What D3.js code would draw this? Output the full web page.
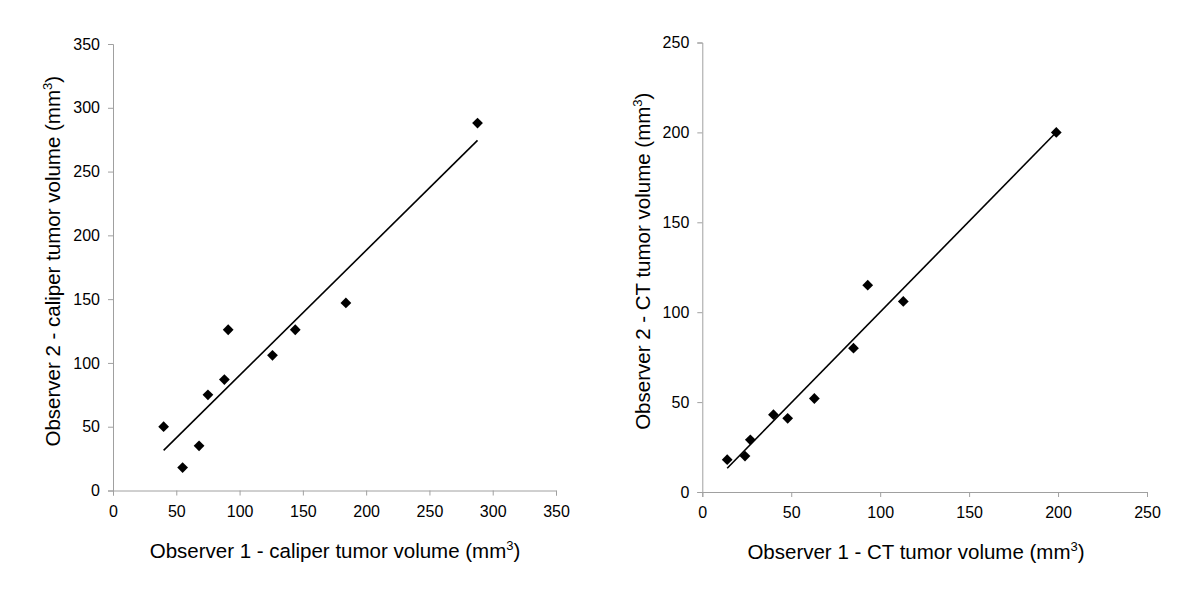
<!DOCTYPE html>
<html>
<head>
<meta charset="utf-8">
<script src="https://cdn.jsdelivr.net/npm/d3@7"></script>
<style>
  body { margin: 0; background: #fff; }
  svg text { font-family: "Liberation Sans", Arial, sans-serif; fill: #000; }
</style>
</head>
<body>
<div id="chart"></div>
<script>
// caliper measurements (mm3)
const caliperObs1 = [40, 55, 68, 75, 88, 91, 126, 144, 184, 288];
const caliperObs2 = [50, 18, 35, 75, 87, 126, 106, 126, 147, 288];
const caliperTicks = [0, 50, 100, 150, 200, 250, 300, 350];

// CT measurements (mm3)
const ctObs1 = [14, 24, 27, 40, 48, 63, 85, 93, 113, 199];
const ctObs2 = [18, 20, 29, 43, 41, 52, 80, 115, 106, 200];
const ctTicks = [0, 50, 100, 150, 200, 250];

const W = 1200, H = 612;

const svg = d3.select("#chart").append("svg")
    .attr("width", W)
    .attr("height", H);

function linFit(xs, ys) {
    const mx = d3.mean(xs), my = d3.mean(ys);
    let sxy = 0, sxx = 0;
    xs.forEach((x, i) => { sxy += (x - mx) * (ys[i] - my); sxx += (x - mx) * (x - mx); });
    const b = sxy / sxx;
    return { b: b, a: my - b * mx };
}

function drawPanel(opts) {
    const { left, right, top, bottom, xs, ys, ticks, xLabel, yLabel, xLabelX, yLabelX } = opts;
    const maxV = ticks[ticks.length - 1];

    const x = d3.scaleLinear().domain([0, maxV]).range([left, right]);
    const y = d3.scaleLinear().domain([0, maxV]).range([bottom, top]);

    const g = svg.append("g");

    const xAxis = g.append("g")
        .attr("transform", `translate(0, ${bottom})`)
        .call(d3.axisBottom(x).tickValues(ticks).tickSize(5).tickPadding(10).tickFormat(d3.format("d")));
    const yAxis = g.append("g")
        .attr("transform", `translate(${left}, 0)`)
        .call(d3.axisLeft(y).tickValues(ticks).tickSize(5).tickPadding(8).tickFormat(d3.format("d")));

    [xAxis, yAxis].forEach(a => {
        a.select(".domain").attr("stroke", "#a0a0a0").attr("stroke-width", 1);
        a.selectAll(".tick line").attr("stroke", "#a0a0a0");
        a.selectAll(".tick text").style("font-size", "16px").attr("fill", "#000");
    });

    // regression line
    const fit = linFit(xs, ys);
    const x0 = d3.min(xs), x1 = d3.max(xs);
    g.append("line")
        .attr("x1", x(x0)).attr("y1", y(fit.a + fit.b * x0))
        .attr("x2", x(x1)).attr("y2", y(fit.a + fit.b * x1))
        .attr("stroke", "#000")
        .attr("stroke-width", 1.6);

    // diamonds
    const sym = d3.symbol().type(d3.symbolSquare).size(58);
    g.selectAll(".pt")
        .data(xs.map((v, i) => [v, ys[i]]))
        .enter()
        .append("path")
        .attr("class", "pt")
        .attr("d", sym)
        .attr("transform", d => `translate(${x(d[0])}, ${y(d[1])}) rotate(45)`)
        .attr("fill", "#000");

    // axis titles
    const xt = g.append("text")
        .attr("x", xLabelX)
        .attr("y", bottom + 67)
        .attr("text-anchor", "middle")
        .style("font-size", "20.5px");
    xt.append("tspan").text(xLabel);
    xt.append("tspan").attr("dy", -8).style("font-size", "13px").text("3");
    xt.append("tspan").attr("dy", 8).text(")");

    const yt = g.append("text")
        .attr("transform", `translate(${yLabelX}, ${(top + bottom) / 2 - 6}) rotate(-90)`)
        .attr("text-anchor", "middle")
        .style("font-size", "20.5px");
    yt.append("tspan").text(yLabel);
    yt.append("tspan").attr("dy", -8).style("font-size", "13px").text("3");
    yt.append("tspan").attr("dy", 8).text(")");
}

drawPanel({
    left: 113, right: 556, top: 44, bottom: 490.5,
    xs: caliperObs1, ys: caliperObs2, ticks: caliperTicks,
    xLabel: "Observer 1 - caliper tumor volume (mm",
    yLabel: "Observer 2 - caliper tumor volume (mm",
    xLabelX: 335, yLabelX: 60
});

drawPanel({
    left: 702.3, right: 1147, top: 42.5, bottom: 492,
    xs: ctObs1, ys: ctObs2, ticks: ctTicks,
    xLabel: "Observer 1 - CT tumor volume (mm",
    yLabel: "Observer 2 - CT tumor volume (mm",
    xLabelX: 916, yLabelX: 650
});
</script>
</body>
</html>
